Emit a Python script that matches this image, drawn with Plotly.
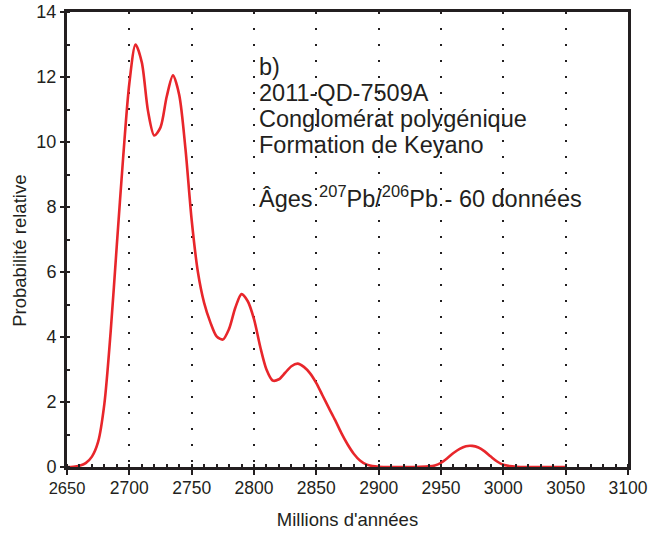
import plotly.graph_objects as go

# Data (age in Ma, relative probability)
ages = [2650, 2655, 2660, 2665, 2670, 2675, 2680, 2685, 2690, 2695,
        2700, 2705, 2710, 2715, 2720, 2725, 2730, 2735, 2740, 2745,
        2750, 2755, 2760, 2765, 2770, 2775, 2780, 2785, 2790, 2795,
        2800, 2805, 2810, 2815, 2820, 2825, 2830, 2835, 2840, 2845,
        2850, 2855, 2860, 2865, 2870, 2875, 2880, 2885, 2890, 2895,
        2900, 2910, 2920, 2930, 2940, 2945, 2950, 2955, 2960, 2965,
        2970, 2975, 2980, 2985, 2990, 2995, 3000, 3005, 3010, 3020,
        3030, 3040, 3050]
prob = [0.0, 0.01, 0.04, 0.12, 0.32, 0.78, 1.95, 4.15, 6.85, 9.5,
        11.8, 13.0, 12.45, 10.95, 10.2, 10.45, 11.4, 12.05, 11.45, 9.8,
        7.6, 6.0, 5.05, 4.45, 4.02, 3.92, 4.25, 4.9, 5.32, 5.1,
        4.55, 3.7, 3.0, 2.66, 2.7, 2.9, 3.1, 3.18, 3.08, 2.88,
        2.58, 2.2, 1.82, 1.45, 1.05, 0.7, 0.41, 0.2, 0.08, 0.03,
        0.01, 0.0, 0.0, 0.0, 0.02, 0.05, 0.13, 0.27, 0.43, 0.56,
        0.64, 0.65, 0.6, 0.48, 0.32, 0.17, 0.07, 0.03, 0.01, 0.0,
        0.0, 0.0, 0.0]

x_ticks = [2650, 2700, 2750, 2800, 2850, 2900, 2950, 3000, 3050, 3100]
x_ticklabels = ['<span style="font-size:16.5px">2650</span>', "2700", "2750", "2800", "2850",
                "2900", "2950", "3000", "3050", "3100"]
y_ticks = [0, 2, 4, 6, 8, 10, 12, 14]

info_lines = ["b)", "2011-QD-7509A", "Conglomérat polygénique", "Formation de Keyano", "",
              "Âges <sup>207</sup>Pb/<sup>206</sup>Pb - 60 données"]

INK = "#231f20"
FONT = "Liberation Sans, Arial, sans-serif"

fig = go.Figure()
fig.add_trace(go.Scatter(x=ages, y=prob, mode="lines",
                         line=dict(color="#e8262b", width=2.6, shape="spline", smoothing=0.8),
                         hoverinfo="skip", showlegend=False))

fig.update_xaxes(range=[2650, 3100], tickvals=x_ticks, ticktext=x_ticklabels,
                 showline=True, linecolor=INK, linewidth=3, mirror=True,
                 ticks="outside", ticklen=5, tickwidth=2, tickcolor=INK,
                 ticklabelstandoff=-2, automargin=False,
                 tickfont=dict(size=17.5, color=INK, family=FONT),
                 showgrid=True, gridcolor=INK, gridwidth=1.5, griddash="2px,14px",
                 minor=dict(dtick=10, ticks="inside", ticklen=3, tickwidth=2, tickcolor=INK,
                            showgrid=False),
                 zeroline=False,
                 title=dict(text="Millions d'années", font=dict(size=18.5, color=INK, family=FONT),
                            standoff=17))
fig.update_yaxes(range=[0, 14], tickvals=y_ticks,
                 showline=True, linecolor=INK, linewidth=3, mirror=True,
                 ticks="outside", ticklen=4, tickwidth=2, tickcolor=INK,
                 automargin=False,
                 tickfont=dict(size=18, color=INK, family=FONT),
                 showgrid=False, zeroline=False,
                 minor=dict(dtick=1, ticks="inside", ticklen=3, tickwidth=2, tickcolor=INK))

# y-axis title (placed as rotated annotation to match the reference offset)
fig.add_annotation(x=-0.084, y=0.475, xref="paper", yref="paper",
                   text="Probabilité relative", textangle=-90, showarrow=False,
                   xanchor="center", yanchor="middle",
                   font=dict(size=18.5, color=INK, family=FONT))

y0 = 0.88
dy = 0.0575
for i, t in enumerate(info_lines):
    if not t:
        continue
    fig.add_annotation(x=0.338, y=y0 - i * dy, xref="paper", yref="paper",
                       text=t, showarrow=False, xanchor="left", yanchor="middle",
                       font=dict(size=23.5, color=INK, family=FONT))

fig.update_layout(width=669, height=535,
                  margin=dict(l=67, r=41, t=12, b=68),
                  paper_bgcolor="white", plot_bgcolor="white",
                  font=dict(family=FONT, color=INK))

fig.write_html("out.html")
